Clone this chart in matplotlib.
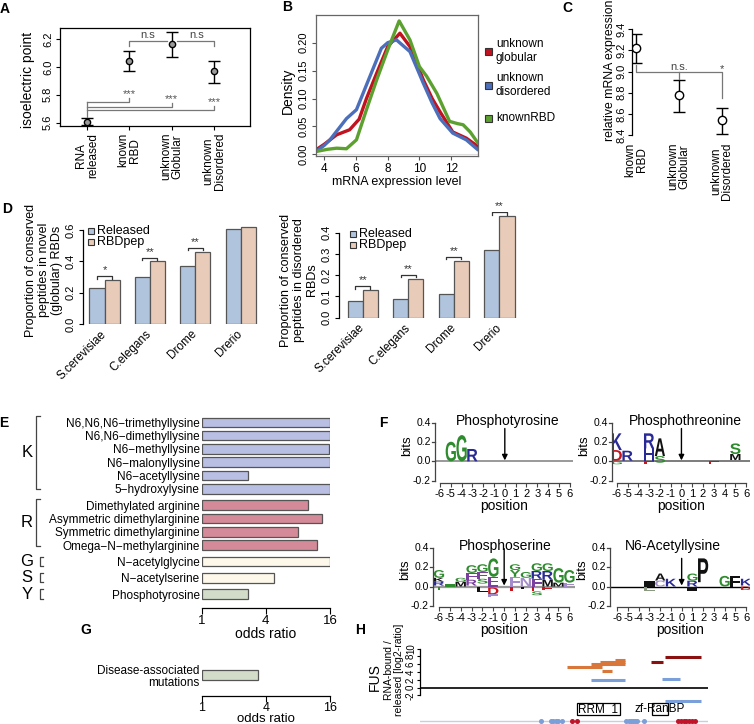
import numpy as np
import matplotlib
matplotlib.use("Agg")
import matplotlib.pyplot as plt
import matplotlib.transforms as mtransforms
from matplotlib.patches import Rectangle, PathPatch
from matplotlib.textpath import TextPath
from matplotlib.font_manager import FontProperties

plt.rcParams["font.family"] = ["Liberation Sans", "DejaVu Sans"]
plt.rcParams["axes.linewidth"] = 0.9

# ---- A: isoelectric point ----
groups_A = ["RNA\nreleased", "known\nRBD", "unknown\nGlobular", "unknown\nDisordered"]
pi_mean = [5.605, 6.044, 6.164, 5.967]
pi_low = [5.583, 5.974, 6.070, 5.886]
pi_high = [5.631, 6.111, 6.253, 6.044]

# ---- B: mRNA expression densities ----
glob_x = [3.48, 4.0, 4.78, 5.6, 6.2, 6.66, 7.3, 8.0, 8.77, 9.4, 10.25, 10.8, 11.3, 12.1, 12.95, 13.69]
glob_y = [0.008, 0.018, 0.035, 0.044, 0.063, 0.100, 0.145, 0.193, 0.217, 0.193, 0.133, 0.100, 0.076, 0.040, 0.029, 0.014]
dis_x = [3.48, 4.0, 4.36, 5.4, 6.03, 6.87, 7.6, 8.0, 8.55, 9.4, 10.25, 10.8, 11.3, 12.1, 12.95, 13.69]
dis_y = [0.005, 0.016, 0.026, 0.064, 0.080, 0.139, 0.190, 0.200, 0.205, 0.184, 0.127, 0.092, 0.064, 0.038, 0.026, 0.008]
rbd_x = [3.48, 4.2, 4.78, 5.4, 6.03, 6.66, 7.3, 8.0, 8.72, 9.4, 10.0, 10.45, 11.1, 11.9, 12.4, 12.75, 13.2, 13.69]
rbd_y = [0.005, 0.009, 0.011, 0.010, 0.026, 0.080, 0.133, 0.187, 0.239, 0.205, 0.157, 0.140, 0.109, 0.059, 0.055, 0.053, 0.040, 0.020]
dens_labels = ["unknown\nglobular", "unknown\ndisordered", "knownRBD"]

# ---- C: relative mRNA expression ----
groups_C = ["known\nRBD", "unknown\nGlobular", "unknown\nDisordered"]
mrna_mean = [9.227, 8.780, 8.542]
mrna_low = [9.078, 8.620, 8.410]
mrna_high = [9.359, 8.917, 8.660]

# ---- D: conserved peptides ----
species = ["S.cerevisiae", "C.elegans", "Drome", "Drerio"]
glob_released = [0.23, 0.30, 0.37, 0.61]
glob_rbdpep = [0.28, 0.40, 0.46, 0.62]
glob_sig = ["*", "**", "**", ""]
dis_released = [0.078, 0.089, 0.111, 0.318]
dis_rbdpep = [0.130, 0.182, 0.267, 0.478]
dis_sig = ["**", "**", "**", "**"]

# ---- E / G: PTM enrichment ----
ptm_names = ["N6,N6,N6\u2212trimethyllysine", "N6,N6\u2212dimethyllysine", "N6\u2212methyllysine",
             "N6\u2212malonyllysine", "N6\u2212acetyllysine", "5\u2212hydroxylysine",
             "Dimethylated arginine", "Asymmetric dimethylarginine", "Symmetric dimethylarginine",
             "Omega\u2212N\u2212methylarginine", "N\u2212acetylglycine", "N\u2212acetylserine", "Phosphotyrosine"]
ptm_odds = [16, 16, 15.8, 16, 2.74, 16, 10.0, 13.4, 7.96, 12.0, 16, 4.77, 2.7]
ptm_groups = ["K"] * 6 + ["R"] * 4 + ["G", "S", "Y"]
disease_odds = [3.35]

# ---- F: sequence logos (position, letter, bottom, top, colour key) ----
logo_ptyr = [(-5, "G", 0, 0.203, "g"), (-4, "G", 0, 0.272, "g"), (-3, "R", 0, 0.128, "b")]
logo_pthr = [(-6, "D", 0.007, 0.117, "r"), (-6, "K", 0.117, 0.29, "b"), (-6, "G", -0.03, 0.0, "g"),
             (-5, "R", 0.007, 0.11, "b"),
             (-3, "H", 0.007, 0.134, "b"), (-3, "R", 0.134, 0.29, "b"), (-3, "E", -0.03, 0.0, "r"),
             (-2, "S", -0.014, 0.055, "g"), (-2, "A", 0.055, 0.238, "k"),
             (3, "E", -0.03, 0.0, "r"),
             (5, "M", 0.014, 0.076, "k"), (5, "S", 0.076, 0.186, "g")]
logo_pser = [(-6, "R", 0.01, 0.05, "b"), (-6, "K", 0.05, 0.09, "k"), (-6, "G", 0.09, 0.17, "g"), (-6, "T", -0.04, 0.0, "g"),
             (-5, "I", 0.0, 0.03, "g"),
             (-4, "M", 0.0, 0.05, "k"), (-4, "G", 0.05, 0.09, "g"),
             (-3, "R", 0.01, 0.07, "p"), (-3, "F", 0.07, 0.14, "p"), (-3, "G", 0.14, 0.22, "g"),
             (-2, "S", 0.03, 0.08, "g"), (-2, "F", 0.08, 0.15, "p"), (-2, "G", 0.15, 0.23, "g"), (-2, "L", -0.06, 0.0, "k"),
             (-1, "E", 0.0, 0.10, "p"), (-1, "G", 0.10, 0.29, "g"), (-1, "D", -0.08, -0.01, "r"), (-1, "E", -0.11, -0.08, "q"),
             (1, "F", 0.0, 0.10, "q"), (1, "Y", 0.10, 0.17, "g"), (1, "G", 0.17, 0.23, "g"), (1, "E", -0.05, 0.0, "r"),
             (2, "N", 0.0, 0.09, "q"), (2, "G", 0.09, 0.15, "g"), (2, "L", -0.03, 0.0, "k"),
             (3, "F", 0.0, 0.08, "p"), (3, "R", 0.08, 0.16, "b"), (3, "G", 0.16, 0.24, "g"),
             (3, "E", -0.05, 0.0, "r"), (3, "S", -0.09, -0.05, "g"),
             (4, "M", 0.0, 0.07, "k"), (4, "R", 0.07, 0.16, "b"), (4, "G", 0.16, 0.24, "g"), (4, "E", -0.04, 0.0, "r"),
             (5, "M", 0.0, 0.04, "k"), (5, "G", 0.04, 0.19, "g"),
             (6, "F", 0.0, 0.04, "q"), (6, "G", 0.04, 0.17, "g")]
logo_acK = [(-3, "I", 0.0, 0.06, "k"), (-3, "L", -0.045, 0.0, "s"),
            (-2, "C", 0.0, 0.062, "q"), (-2, "A", 0.062, 0.134, "k"),
            (-1, "K", 0.0, 0.08, "b"),
            (1, "R", 0.0, 0.06, "b"), (1, "G", 0.06, 0.134, "g"), (1, "I", -0.045, 0.0, "k"),
            (2, "P", 0.045, 0.29, "k"),
            (4, "G", 0.0, 0.11, "g"), (5, "F", 0.0, 0.11, "k"),
            (6, "K", 0.01, 0.08, "b"), (6, "D", -0.035, 0.0, "r")]
logo_ticks = [-0.2, 0.0, 0.2, 0.4]
logo_ticklabels = ["-0.2", "0.0", "0.2", "0.4"]

# ---- H: FUS peptides (start residue, end residue, log2 ratio) ----
fus_orange = [(268, 332, 5.4), (312, 375, 6.2), (329, 375, 6.7), (356, 375, 7.0), (332, 350, 4.4)]
fus_blue = [(312, 375, 2.0), (442, 475, 2.3), (447, 513, -3.3)]
fus_darkred = [(421, 443, 6.7), (447, 513, 7.8)]
fus_domains = [("RRM_1", 286, 366), ("zf-RanBP", 423, 453)]
fus_sites_blue = [221, 240, 244, 248, 252, 259, 377, 381, 385, 389, 393, 396, 408]
fus_sites_red = [277, 286, 471, 476, 481, 486, 491, 496, 502]
fus_length = 526

W, H = 754, 724
fig = plt.figure(figsize=(W / 100, H / 100), dpi=100)


def px_axes(x0, y0, x1, y1):
    return fig.add_axes([x0 / W, 1 - y1 / H, (x1 - x0) / W, (y1 - y0) / H])


def px_text(x, y, s, **kw):
    return fig.text(x / W, 1 - y / H, s, **kw)


def px_square(x0, y0, x1, y1, color):
    fig.patches.append(Rectangle((x0 / W, 1 - y1 / H), (x1 - x0) / W, (y1 - y0) / H,
                                 transform=fig.transFigure, facecolor=color,
                                 edgecolor="#333", lw=0.8))


for lab, x, y in [("A", 5, 9), ("B", 287, 7), ("C", 567, 8), ("D", 7, 209),
                  ("E", 4, 423), ("F", 383, 423), ("G", 86, 630), ("H", 360, 630)]:
    px_text(x, y, lab, fontsize=10, fontweight="bold", ha="center", va="center")

GREY = "#777777"

# ================= A =================
axA = px_axes(60, 28, 250, 126)
xa = np.arange(1, 5)
axA.errorbar(xa, pi_mean, yerr=[np.subtract(pi_mean, pi_low), np.subtract(pi_high, pi_mean)],
             fmt="o", color="k", ms=4.5, mfc="#9a9a9a", mec="k", mew=1,
             capsize=4, elinewidth=1, capthick=1)
axA.set_xlim(0.36, 4.85)
axA.set_ylim(5.576, 6.279)
axA.set_xticks(xa)
axA.set_xticklabels(groups_A, rotation=90, fontsize=8.5, linespacing=0.95)
axA.set_yticks([5.6, 5.8, 6.0, 6.2])
axA.set_yticklabels(["5.6", "5.8", "6.0", "6.2"], rotation=90, va="center", fontsize=8)
axA.tick_params(length=3, pad=2)
px_text(28, 80, "isoelectric point", rotation=90, fontsize=10, ha="center", va="center")
# n.s brackets
axA.plot([2, 2, 2.88], [6.147, 6.183, 6.183], color=GREY, lw=0.9)
axA.plot([3.12, 4, 4], [6.183, 6.183, 6.147], color=GREY, lw=0.9)
axA.text(2.42, 6.231, "n.s", ha="center", va="center", fontsize=8, color="#444")
axA.text(3.6, 6.231, "n.s", ha="center", va="center", fontsize=8, color="#444")
# *** brackets from released
axA.plot([1, 1], [5.643, 5.751], color=GREY, lw=0.9)
for tgt, lvl in zip([2, 3, 4], [5.751, 5.715, 5.691]):
    axA.plot([1, tgt, tgt], [lvl, lvl, lvl + 0.028], color=GREY, lw=0.9)
    axA.text(tgt, lvl + 0.055, "***", ha="center", va="center", fontsize=8, color="#555")

# ================= B =================
axB = px_axes(316, 15, 478, 156)
dens_colors = ["#c1121f", "#4b6fba", "#5ca130"]
for xs, ys, c in zip([glob_x, dis_x, rbd_x], [glob_y, dis_y, rbd_y], dens_colors):
    axB.plot(xs, ys, color=c, lw=2.4, solid_joinstyle="round", solid_capstyle="round")
axB.axhline(0, color="#dddddd", lw=0.8, zorder=0)
axB.set_xlim(3.48, 13.69)
axB.set_ylim(-0.003, 0.2496)
axB.set_xticks([4, 6, 8, 10, 12])
axB.set_yticks([0, 0.05, 0.10, 0.15, 0.20])
axB.set_yticklabels(["0.00", "0.05", "0.10", "0.15", "0.20"], rotation=90, va="center", fontsize=8)
axB.tick_params(axis="x", labelsize=8.5)
axB.tick_params(length=3, pad=2, color="#555")
for sp in axB.spines.values():
    sp.set_color("#666")
axB.set_xlabel("mRNA expression level", fontsize=9, labelpad=1)
px_text(288, 91, "Density", rotation=90, fontsize=10, ha="center", va="center")
for lab, c, yc in zip(dens_labels, dens_colors, [51, 85, 118]):
    px_square(485, yc - 3.5, 492, yc + 3.5, c)
    px_text(496, yc, lab, fontsize=8.5, ha="left", va="center", linespacing=1.15)

# ================= C =================
axC = px_axes(632, 28, 737, 137)
xc = np.arange(1, 4)
axC.errorbar(xc, mrna_mean, yerr=[np.subtract(mrna_mean, mrna_low), np.subtract(mrna_high, mrna_mean)],
             fmt="o", color="k", ms=6, mfc="white", mec="k", mew=1,
             capsize=4, elinewidth=1, capthick=1)
axC.set_xlim(0.9, 3.36)
axC.set_ylim(8.381, 9.412)
for s in ["top", "right", "bottom"]:
    axC.spines[s].set_visible(False)
axC.spines["left"].set_bounds(8.4, 9.4)
axC.set_xticks(xc)
axC.set_xticklabels(groups_C, rotation=90, fontsize=8.5, linespacing=0.95)
axC.tick_params(axis="x", length=0, pad=4)
axC.set_yticks([8.4, 8.6, 8.8, 9.0, 9.2, 9.4])
axC.set_yticklabels(["8.4", "8.6", "8.8", "9.0", "9.2", "9.4"], rotation=90, va="center", fontsize=8)
axC.tick_params(axis="y", length=3, pad=1)
px_text(610, 70, "relative mRNA expression", rotation=90, fontsize=8.8, ha="center", va="center")
axC.plot([1, 1, 3, 3], [9.06, 9.0, 9.0, 8.747], color=GREY, lw=0.9)
axC.plot([2, 2], [9.0, 8.93], color=GREY, lw=0.9)
axC.text(2, 9.047, "n.s.", ha="center", va="center", fontsize=8, color="#444")
axC.text(3, 9.02, "*", ha="center", va="center", fontsize=8, color="#444")

# ================= D =================
BLUE_D, PINK_D = "#b0c4de", "#e8cbb8"


def draw_d(rect, released, rbdpep, sig, ytop, yticks, off, legend_xy):
    ax = px_axes(*rect)
    xi = np.arange(len(species))
    w = 1 / 3
    ax.bar(xi - w / 2, released, width=w, color=BLUE_D, edgecolor="#555", lw=0.9)
    ax.bar(xi + w / 2, rbdpep, width=w, color=PINK_D, edgecolor="#555", lw=0.9)
    for i, s in enumerate(sig):
        if not s:
            continue
        yb = rbdpep[i] + off
        ax.plot([i - w / 2, i - w / 2, i + w / 2, i + w / 2], [yb - off * 0.6, yb, yb, yb - off * 0.6],
                color="#333", lw=0.9)
        ax.text(i, yb + off * 0.2, s, ha="center", va="bottom", fontsize=8, color="#333")
    ax.set_ylim(0, ytop)
    for s in ["top", "right", "bottom"]:
        ax.spines[s].set_visible(False)
    ax.spines["left"].set_bounds(yticks[0], yticks[-1])
    ax.set_yticks(yticks)
    ax.set_yticklabels([f"{v:.1f}" for v in yticks], rotation=90, va="center", fontsize=8)
    ax.tick_params(axis="y", length=3, pad=2)
    ax.set_xticks(xi)
    ax.set_xticklabels(species, rotation=45, ha="right", va="center", rotation_mode="anchor", fontsize=8.5)
    ax.tick_params(axis="x", length=0, pad=6)
    lx, ly = legend_xy
    for k, (lab, c) in enumerate([("Released", BLUE_D), ("RBDpep", PINK_D)]):
        yc = ly + k * 11
        px_square(lx, yc - 3, lx + 6, yc + 3, c)
        px_text(lx + 9, yc, lab, fontsize=9, ha="left", va="center")
    return ax


axD1 = draw_d((82.5, 222, 262, 324), glob_released, glob_rbdpep, glob_sig, 0.652,
              [0.0, 0.2, 0.4, 0.6], 0.025, (87.5, 231))
axD1.set_xlim(-0.485, 3.47)
axD2 = draw_d((339, 212, 520, 317.7), dis_released, dis_rbdpep, dis_sig, 0.497,
              [0.0, 0.1, 0.2, 0.3, 0.4], 0.018, (349.5, 234.5))
axD2.set_xlim(-0.52, 3.45)
px_text(44, 270, "Proportion of conserved\npeptides in novel\n(globular) RBDs", rotation=90,
        fontsize=9, ha="center", va="center", linespacing=1.15)
px_text(299, 280, "Proportion of conserved\npeptides in disordered\nRBDs", rotation=90,
        fontsize=9, ha="center", va="center", linespacing=1.15)

# ================= E =================
group_colors = {"K": "#b9bfe3", "R": "#d48a98", "G": "#fdf8ea", "S": "#fdf8ea", "Y": "#d3dcc9"}
ypos = []
cur, prev = 0.0, None
for g in ptm_groups:
    if prev is not None:
        cur += 1.0 if g == prev else 1.23
    ypos.append(cur)
    prev = g

axE = px_axes(201.7, 415.7, 330, 607.7)
axE.barh(ypos, np.array(ptm_odds) - 1, left=1, height=0.72,
         color=[group_colors[g] for g in ptm_groups], edgecolor="#555", lw=0.9)
axE.set_xscale("log", base=2)
axE.set_xlim(1, 16)
axE.set_ylim(13.94, -0.5)
for s in ["top", "right", "left"]:
    axE.spines[s].set_visible(False)
axE.spines["bottom"].set_bounds(1, 16)
axE.set_xticks([1, 4, 16])
axE.set_xticklabels(["1", "4", "16"], fontsize=9.5)
axE.xaxis.set_minor_locator(matplotlib.ticker.NullLocator())
axE.tick_params(axis="x", length=4, pad=1)
axE.set_yticks(ypos)
axE.set_yticklabels(ptm_names, fontsize=8.5)
axE.tick_params(axis="y", length=0, pad=1.5)
axE.set_xlabel("odds ratio", fontsize=10, labelpad=0)

trE = mtransforms.blended_transform_factory(fig.transFigure, axE.transData)
for g in ["K", "R", "G", "S", "Y"]:
    rows = [p for p, gg in zip(ypos, ptm_groups) if gg == g]
    if len(rows) > 1:
        y0, y1 = rows[0] - 0.45, rows[-1] + 0.05
        bx0, bx1 = 36 / W, 40 / W
        axE.plot([bx1, bx0, bx0, bx1], [y0, y0, y1, y1], color="#444", lw=0.9,
                 transform=trE, clip_on=False)
        axE.text(27 / W, (y0 + y1) / 2, g, transform=trE, fontsize=12, ha="center", va="center")
    else:
        y0, y1 = rows[0] - 0.35, rows[0] + 0.35
        bx0, bx1 = 39.5 / W, 43 / W
        axE.plot([bx1, bx0, bx0, bx1], [y0, y0, y1, y1], color="#444", lw=0.9,
                 transform=trE, clip_on=False)
        axE.text(27 / W, rows[0], g, transform=trE, fontsize=12, ha="center", va="center")

# ================= G =================
axG = px_axes(201.7, 661.7, 330, 696.3)
axG.barh([0], np.array(disease_odds) - 1, left=1, height=0.75, color="#d3dcc9", edgecolor="#555", lw=0.9)
axG.set_xscale("log", base=2)
axG.set_xlim(1, 16)
axG.set_ylim(1.6, -1.0)
for s in ["top", "right", "left"]:
    axG.spines[s].set_visible(False)
axG.spines["bottom"].set_bounds(1, 16)
axG.set_xticks([1, 4, 16])
axG.set_xticklabels(["1", "4", "16"], fontsize=9)
axG.xaxis.set_minor_locator(matplotlib.ticker.NullLocator())
axG.tick_params(axis="x", length=4, pad=0)
axG.set_yticks([0])
axG.set_yticklabels(["Disease-associated\nmutations"], fontsize=8.5, linespacing=1.0)
axG.tick_params(axis="y", length=0, pad=1.5)
px_text(265.8, 719, "odds ratio", fontsize=9.5, ha="center", va="center")

# ================= F =================
LOGO_FP = FontProperties(family="Liberation Sans", weight="bold")
LOGO_COLORS = {"g": "#2e8b2e", "b": "#2a2a96", "r": "#c8161d", "k": "#111111",
               "p": "#7b3f9e", "q": "#a48ccb", "s": "#8a9a80"}


def draw_letter(ax, ch, pos, y0, y1, color, width=0.95):
    tp = TextPath((0, 0), ch, size=1, prop=LOGO_FP)
    bb = tp.get_extents()
    t = (mtransforms.Affine2D().translate(-bb.x0, -bb.y0)
         .scale(width / bb.width, (y1 - y0) / bb.height)
         .translate(pos - width / 2, y0))
    ax.add_patch(PathPatch(t.transform_path(tp), facecolor=color, lw=0))


def draw_logo(rect, xlim, ylim, title, title_x, letters, zero_color, zero_lw, arrow_top):
    x0, y0, x1, y1 = rect
    ax = px_axes(*rect)
    ax.set_xlim(*xlim)
    ax.set_ylim(*ylim)
    ax.axhline(0, color=zero_color, lw=zero_lw, zorder=1)
    for pos, ch, b0, b1, ck in letters:
        draw_letter(ax, ch, pos, b0, b1, LOGO_COLORS[ck])
    ax.annotate("", xy=(0, 0.01), xytext=(0, arrow_top),
                arrowprops=dict(arrowstyle="-|>", color="k", lw=1, mutation_scale=8,
                                shrinkA=0, shrinkB=0))
    for s in ["top", "right", "left"]:
        ax.spines[s].set_visible(False)
    ax.spines["bottom"].set_bounds(-6, 6)
    ax.spines["bottom"].set_color("#444")
    ax.set_xticks(range(-6, 7))
    ax.set_xticklabels([str(v) for v in range(-6, 7)], fontsize=8)
    ax.tick_params(axis="x", length=3, pad=1, color="#444")
    ax.set_yticks([])
    # y axis drawn at the left edge of the panel
    tr = mtransforms.blended_transform_factory(ax.transAxes, ax.transData)
    ax.plot([0, 0], [logo_ticks[0], logo_ticks[-1]], color="#444", lw=0.9,
            transform=tr, clip_on=False)
    for v, lab in zip(logo_ticks, logo_ticklabels):
        ax.plot([-3.0 / (x1 - x0), 0], [v, v], color="#444", lw=0.9, transform=tr, clip_on=False)
        ax.text(-4.0 / (x1 - x0), v, lab, transform=tr, ha="right", va="center",
                fontsize=7.5, color="k", clip_on=False)
    ax.text(title_x, ylim[1] - 0.01, title, ha="center", va="center", fontsize=10)
    ax.set_xlabel("position", fontsize=10, labelpad=0)
    px_text(x0 - 28, (y0 + y1) / 2 - 6, "bits", rotation=90, fontsize=9.5, ha="center", va="center")
    return ax


draw_logo((435, 419.8, 573, 483.3), (-6.46, 6.31), (-0.227, 0.43), "Phosphotyrosine", 0.3,
          logo_ptyr, "#888888", 1.2, 0.34)
draw_logo((611.7, 419.8, 750, 483.3), (-6.47, 6.36), (-0.227, 0.43), "Phosphothreonine", 0.4,
          logo_pthr, "#666666", 1.2, 0.34)
draw_logo((433, 545, 575, 607), (-6.55, 6.52), (-0.211, 0.428), "Phosphoserine", 0.1,
          logo_pser, "#999999", 1.6, 0.39)
draw_logo((610, 545, 750, 607), (-6.68, 6.37), (-0.211, 0.428), "N6-Acetyllysine", -0.8,
          logo_acK, "#000000", 1.0, 0.29)

# ================= H =================
axH = px_axes(420, 640, 708.3, 724)
axH.set_xlim(1, fus_length)
axH.set_ylim(-9.31, 12.23)
axH.plot([1, fus_length], [0, 0], color="k", lw=1.2)
for segs, c in [(fus_orange, "#d9773a"), (fus_blue, "#7b9fd8"), (fus_darkred, "#8b1111")]:
    for s0, s1, v in segs:
        axH.plot([s0, s1], [v, v], color=c, lw=2.2, solid_capstyle="butt")
for name, d0, d1 in fus_domains:
    axH.add_patch(Rectangle((d0, -7.0), d1 - d0, 3.0, facecolor="none", edgecolor="k", lw=0.9))
    axH.text((d0 + d1) / 2, -5.5, name, ha="center", va="center", fontsize=8.5)
axH.plot([1, fus_length], [-8.5, -8.5], color="#c8cfdc", lw=1)
axH.plot(fus_sites_blue, [-8.5] * len(fus_sites_blue), "o", color="#7b9fd8", ms=2.6)
axH.plot(fus_sites_red, [-8.5] * len(fus_sites_red), "o", color="#c0142a", ms=2.6)
for s in ["top", "right", "bottom"]:
    axH.spines[s].set_visible(False)
axH.spines["left"].set_bounds(-2, 10)
axH.set_xticks([])
axH.set_yticks([-2, 0, 2, 4, 6, 8, 10])
axH.set_yticklabels(["-2", "0", "2", "4", "6", "8", "10"], rotation=90, va="center", fontsize=7)
axH.tick_params(axis="y", length=2, pad=1)
px_text(375, 677, "FUS", rotation=90, fontsize=10, ha="center", va="center")
px_text(394, 670, "RNA-bound /\nreleased [log2-ratio]", rotation=90, fontsize=7.5,
        ha="center", va="center", linespacing=1.1)

fig.savefig("out.png", dpi=100)
